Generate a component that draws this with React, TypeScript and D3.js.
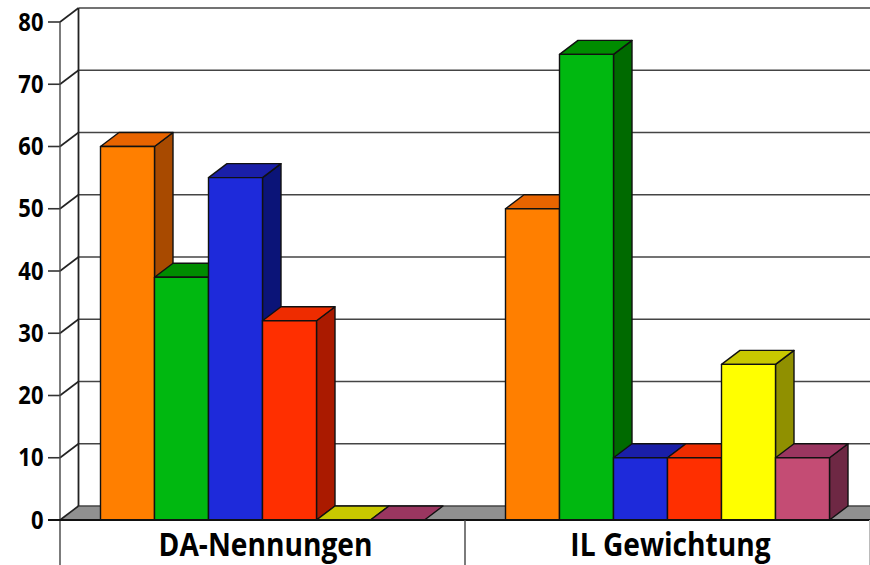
import React from "react";
import * as d3 from "d3";

const categories = ["DA-Nennungen", "IL Gewichtung"];
const seriesNames = ["A", "B", "C", "D", "E", "F"];
const daValues = [60, 39, 55, 32, 0, 0];
const ilValues = [50, 74.8, 10, 10, 25, 10];
const yTicks = [0, 10, 20, 30, 40, 50, 60, 70, 80];
const frontColors = ["#ff7f00", "#00b810", "#1e2ada", "#ff2f00", "#ffff00", "#c44c74"];
const topColors = ["#e86400", "#008c00", "#1a1fa8", "#ee2c00", "#c8c800", "#9a3660"];
const sideColors = ["#a84a00", "#006a00", "#0b1478", "#aa1a00", "#909000", "#6e2844"];

const W = 870, H = 565;
const DX = 18.5, DY = -14;
const x0 = d3.scaleBand().domain(categories).range([60, 870]);
const x1 = d3.scaleBand().domain(seriesNames).range([0, x0.bandwidth()]).paddingOuter(0.75).paddingInner(0);
const y = d3.scaleLinear().domain([0, 80]).range([520, 22]);
const line = d3.line();

const poly = (pts: [number, number][]) => line(pts) + "Z";
const labelFont = { fontFamily: "'Open Sans', sans-serif", fontWeight: 700, fill: "#000" } as const;

export default function App() {
  const groups = [daValues, ilValues];
  return (
    <svg width={W} height={H} style={{ position: "absolute", left: 0, top: 0, background: "#fff" }}>
      {/* floor */}
      <path d={poly([[60, y(0)], [60 + DX, y(0) + DY], [870, y(0) + DY], [870, y(0)]])} fill="#909090" stroke="none" />
      {/* back wall grid */}
      {yTicks.map((t) => (
        <g key={t}>
          <line x1={60 + DX} x2={870} y1={y(t) + DY} y2={y(t) + DY} stroke="#444" strokeWidth={1.7} />
          <line x1={60} x2={60 + DX} y1={y(t)} y2={y(t) + DY} stroke="#222" strokeWidth={1.6} />
          <line x1={48} x2={60} y1={y(t)} y2={y(t)} stroke="#333" strokeWidth={1.6} />
          <text x={0} y={0} textAnchor="end" fontSize={25} {...labelFont}
            transform={`translate(43.5,${y(t) + 8.5}) scale(0.88,1)`}>{t}</text>
        </g>
      ))}
      <line x1={60 + DX} x2={60 + DX} y1={y(80) + DY} y2={y(0) + DY} stroke="#222" strokeWidth={1.8} />
      <line x1={60} x2={60} y1={y(80)} y2={H} stroke="#444" strokeWidth={1.4} />
      {/* bars */}
      {categories.map((c, gi) => (
        <g key={c}>
          {groups[gi].map((v, i) => {
            const xa = x0(c)! + x1(seriesNames[i])!;
            const xb = xa + x1.bandwidth();
            const yt = y(v), yb = y(0);
            return (
              <g key={i} stroke="#111" strokeWidth={1.4} strokeLinejoin="round">
                {v > 0 && <path d={poly([[xb, yt], [xb + DX, yt + DY], [xb + DX, yb + DY], [xb, yb]])} fill={sideColors[i]} />}
                <path d={poly([[xa, yt], [xa + DX, yt + DY], [xb + DX, yt + DY], [xb, yt]])} fill={topColors[i]} />
                {v > 0 && <rect x={xa} y={yt} width={xb - xa} height={yb - yt} fill={frontColors[i]} />}
              </g>
            );
          })}
        </g>
      ))}
      {/* baseline + separators */}
      <line x1={48} x2={870} y1={y(0)} y2={y(0)} stroke="#111" strokeWidth={1.8} />
      <line x1={x0(categories[1])!} x2={x0(categories[1])!} y1={y(0)} y2={H} stroke="#444" strokeWidth={1.4} />
      <line x1={869.5} x2={869.5} y1={y(0)} y2={H} stroke="#bbb" strokeWidth={1} />
      {categories.map((c) => (
        <text key={c} textAnchor="middle" fontSize={32} {...labelFont}
          transform={`translate(${x0(c)! + x0.bandwidth() / 2 + 3},555.5) scale(0.88,1)`}>{c}</text>
      ))}
    </svg>
  );
}
